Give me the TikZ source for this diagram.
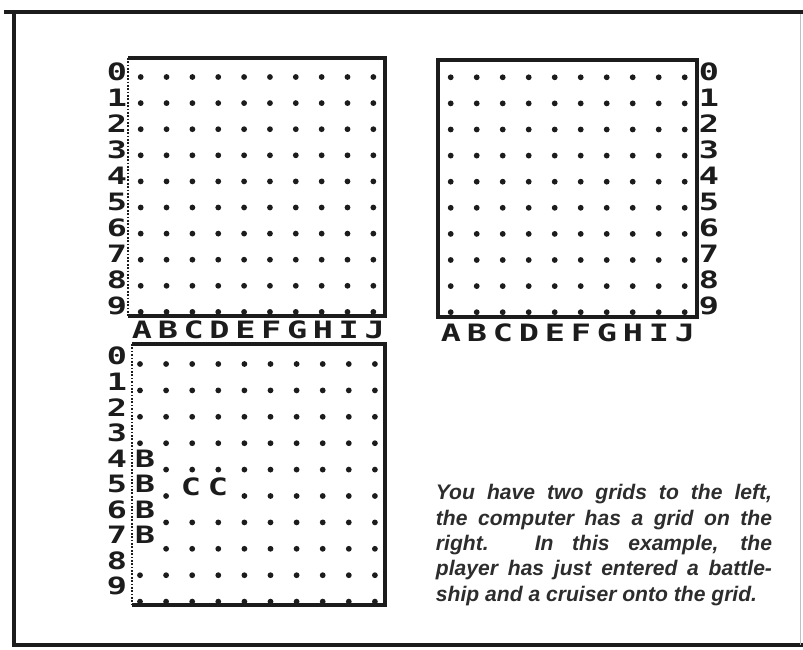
\documentclass[tikz,border=0pt]{standalone}
\usepackage{fontspec}
\usepackage{graphicx}
\newfontfamily\zxfont{DejaVu Sans Mono}
\newfontfamily\capfont{Liberation Sans}
\definecolor{figink}{RGB}{28,28,28}
\definecolor{figtext}{RGB}{45,45,45}
\newcommand{\zxw}[1]{\scalebox{1.4}[1]{#1}}

\begin{document}
\begin{tikzpicture}[x=0.025cm,y=-0.025cm,
  zxchar/.style={font=\zxfont\bfseries\fontsize{17}{17}\selectfont,inner sep=0pt,text=figink},
  griddot/.style={fill=figink},
  gridedge/.style={draw=figink,line width=0.08cm},
  dotedge/.style={draw=figink,line width=0.06cm,dash pattern=on 1.2pt off 1.2pt}]
  \useasboundingbox (0,0) rectangle (803,650);
  \draw[figink,line width=0.12cm] (4,12) -- (803,12);
  \draw[figink,line width=0.1cm] (14,12) -- (14,645) -- (803,645);
  \draw[gray!50,line width=0.02cm] (800,14) -- (800,645);

  \draw[gridedge] (128,58) -- (385,58) -- (385,316) -- (128,316);
  \draw[dotedge] (128,58) -- (128,316);
  \foreach \c in {0,...,9}
    \foreach \r in {0,...,9}
      \fill[griddot] ({140.7+25.85*\c},{77+26.1*\r}) circle (2.9);
  \foreach \r in {0,...,9}
    \node[zxchar] (arow\r) at (117,{72+26*\r}) {\zxw{\r}};
  \foreach \l [count=\c from 0] in {A,B,C,D,E,F,G,H,I,J}
    \node[zxchar] (acol\l) at ({142+25.85*\c},330) {\zxw{\l}};

  \draw[gridedge] (438,60) -- (697,60) -- (697,317) -- (438,317) -- cycle;
  \foreach \c in {0,...,9}
    \foreach \r in {0,...,9}
      \fill[griddot] ({450.7+26*\c},{77.3+26.1*\r}) circle (2.9);
  \foreach \r in {0,...,9}
    \node[zxchar] (brow\r) at (709,{72+26*\r}) {\zxw{\r}};
  \foreach \l [count=\c from 0] in {A,B,C,D,E,F,G,H,I,J}
    \node[zxchar] (bcol\l) at ({451+26*\c},333) {\zxw{\l}};

  \draw[gridedge] (132,344) -- (385,344) -- (385,605) -- (132,605);
  \draw[dotedge] (132,344) -- (132,605);
  \foreach \c in {0,...,9}
    \foreach \r in {0,...,9}{
      \pgfmathtruncatemacro\ship{or(and(\c==0,and(\r>3,\r<8)),and(\r==5,or(\c==2,\c==3)))}
      \ifnum\ship=0
        \fill[griddot] ({140+26.1*\c},{364+26.4*\r}) circle (2.9);
      \fi}
  \foreach \r in {0,...,9}
    \node[zxchar] (crow\r) at (117,{356+25.6*\r}) {\zxw{\r}};
  \foreach \r in {4,5,6,7}
    \node[zxchar] (cship\r) at (145,{356+25.6*\r}) {\zxw{B}};
  \node[zxchar] (ccruisera) at (191,487) {\zxw{C}};
  \node[zxchar] (ccruiserb) at (218,487) {\zxw{C}};

  \node[text width=8.4cm,align=justify,inner sep=0pt,text=figtext,
    font=\capfont\itshape\bfseries\fontsize{15}{18.1}\selectfont] (caption) at (604,545)
    {\parfillskip=0pt\hyphenpenalty=10000 You have two grids to the left,\linebreak
     the computer has a grid on the\linebreak
     right. In this example, the\linebreak
     player has just entered a battle-\linebreak
     ship and a cruiser onto the grid.};
\end{tikzpicture}
\end{document}
